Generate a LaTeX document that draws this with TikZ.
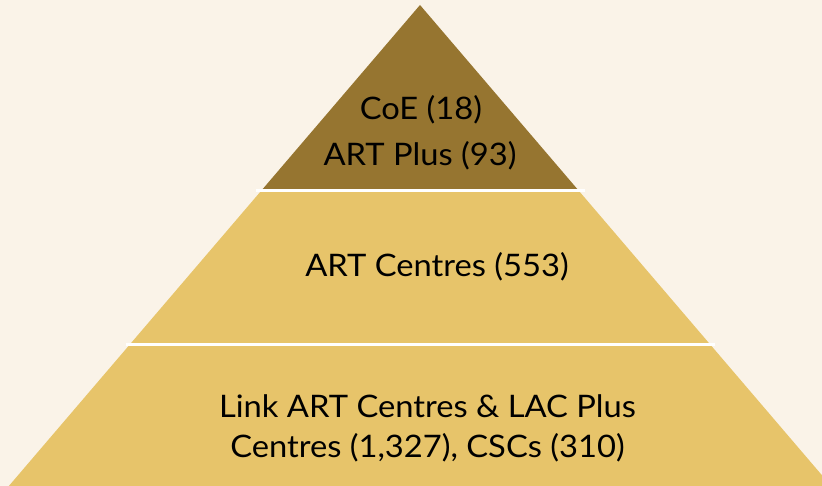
\documentclass[tikz,border=0pt]{standalone}
\usepackage{fontspec}
\usepackage{graphicx}
\setmainfont{Lato}
\definecolor{bgc}{HTML}{FAF3E8}
\definecolor{topc}{HTML}{967530}
\definecolor{lowc}{HTML}{E7C46A}
\newcommand{\wide}[1]{\scalebox{1.055}[1]{#1}}
\begin{document}
\begin{tikzpicture}[x=1pt,y=-1pt,
  lbl/.style={anchor=base,inner sep=0pt,font=\fontsize{31}{31}\selectfont,text=black}]
\fill[bgc] (0,0) rectangle (822,486);
\useasboundingbox (0,0) rectangle (822,486);
\clip (0,0) rectangle (822,486);
\coordinate (apex) at (420,5);
\coordinate (bl) at (8,487);
\coordinate (br) at (832,487);
\begin{scope}
\clip (apex) -- (bl) -- (br) -- cycle;
\fill[topc] (0,0) rectangle (822,190.5);
\fill[lowc] (0,190.5) rectangle (822,490);
\end{scope}
\fill[white] (256,189) rectangle (585,192);
\fill[white] (126,343) rectangle (715,346);
\node[lbl] (t1) at (421,120) {\wide{CoE (18)}};
\node[lbl] (t2) at (420,166) {\wide{ART Plus (93)}};
\node[lbl] (m1) at (437,277) {\wide{ART Centres (553)}};
\node[lbl] (b1) at (427.5,417) {\wide{Link ART Centres \& LAC Plus}};
\node[lbl] (b2) at (427.5,457) {\wide{Centres (1,327), CSCs (310)}};
\end{tikzpicture}
\end{document}
